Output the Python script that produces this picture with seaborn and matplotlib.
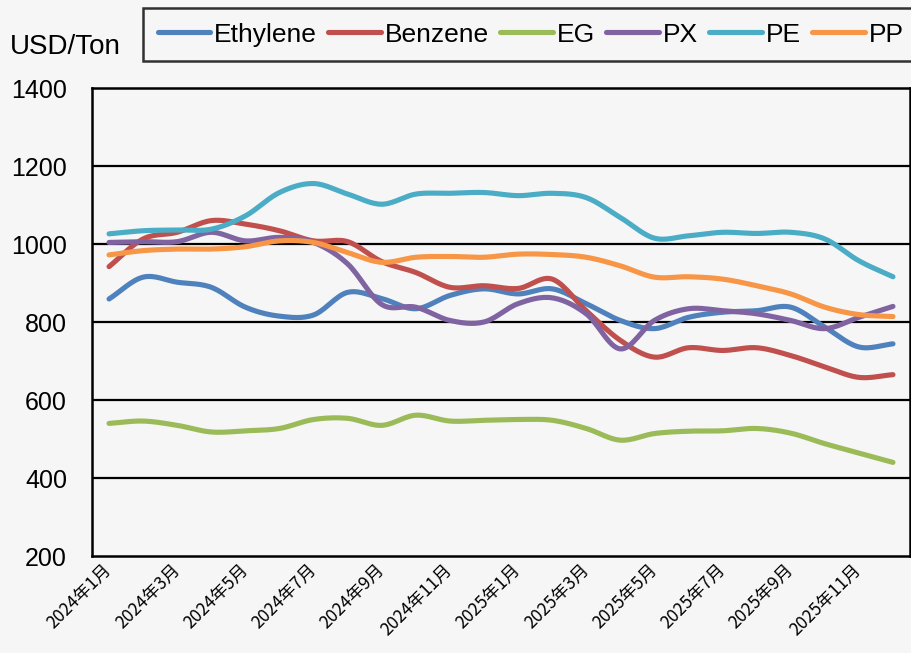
import numpy as np
import pandas as pd
import matplotlib
matplotlib.use("Agg")
import matplotlib.pyplot as plt
from matplotlib.lines import Line2D
import seaborn as sns

months = [f"{y}年{m}月" for y in (2024, 2025) for m in range(1, 13)]

ethylene = [859, 915, 902, 889, 838, 815, 818, 876, 860, 834, 868, 885,
            872, 885, 847, 804, 783, 812, 825, 829, 838, 787, 736, 744]
benzene = [942, 1013, 1030, 1060, 1051, 1034, 1008, 1006, 955, 927, 889, 893,
           886, 910, 829, 753, 710, 734, 727, 734, 714, 685, 658, 665]
eg = [540, 546, 535, 518, 521, 527, 550, 553, 535, 561, 546, 548,
      550, 548, 527, 497, 514, 520, 521, 527, 515, 488, 464, 440]
px = [1004, 1006, 1006, 1030, 1008, 1017, 1004, 949, 845, 838, 804, 800,
      847, 862, 821, 731, 804, 834, 829, 821, 804, 783, 812, 840]
pe = [1026, 1034, 1036, 1038, 1072, 1132, 1155, 1128, 1102, 1128, 1130, 1132,
      1124, 1130, 1119, 1068, 1015, 1021, 1030, 1027, 1030, 1013, 957, 916]
pp = [972, 983, 987, 987, 993, 1008, 1004, 978, 953, 966, 968, 966,
      974, 973, 966, 944, 915, 916, 910, 893, 872, 838, 819, 814]

series_names = ["Ethylene", "Benzene", "EG", "PX", "PE", "PP"]
series_values = [ethylene, benzene, eg, px, pe, pp]
colors = ["#4F81BD", "#C0504D", "#9BBB59", "#8064A2", "#4BACC6", "#F79646"]


def smooth(vals, steps=16):
    # Catmull-Rom curve through the points, like Excel's "smoothed line"
    y = np.asarray(vals, dtype=float)
    x = np.arange(len(y), dtype=float)
    px_ = np.concatenate([[2 * x[0] - x[1]], x, [2 * x[-1] - x[-2]]])
    py_ = np.concatenate([[2 * y[0] - y[1]], y, [2 * y[-1] - y[-2]]])
    xs, ys = [], []
    t = np.linspace(0, 1, steps, endpoint=False)
    for i in range(1, len(px_) - 2):
        for arr, out in ((px_, xs), (py_, ys)):
            p0, p1, p2, p3 = arr[i - 1], arr[i], arr[i + 1], arr[i + 2]
            out.extend(0.5 * ((2 * p1) + (-p0 + p2) * t
                              + (2 * p0 - 5 * p1 + 4 * p2 - p3) * t ** 2
                              + (-p0 + 3 * p1 - 3 * p2 + p3) * t ** 3))
    xs.append(x[-1])
    ys.append(y[-1])
    return np.array(xs), np.array(ys)


frames = []
for name, vals in zip(series_names, series_values):
    sx, sy = smooth(vals)
    frames.append(pd.DataFrame({"x": sx, "value": sy, "series": name}))
df = pd.concat(frames, ignore_index=True)

sns.set_style("white")
plt.rcParams["font.family"] = ["Liberation Sans", "Noto Sans CJK SC", "DejaVu Sans"]
plt.rcParams["text.color"] = "black"
plt.rcParams["xtick.color"] = "black"
plt.rcParams["ytick.color"] = "black"

bg = "#F6F6F6"
fig = plt.figure(figsize=(9.12, 6.53), dpi=100, facecolor=bg)
ax = fig.add_axes([92 / 912, 1 - 556 / 653, 818 / 912, 468 / 653])
ax.set_facecolor(bg)

sns.lineplot(data=df, x="x", y="value", hue="series", hue_order=series_names,
             palette=colors, linewidth=3.7, sort=False, estimator=None,
             legend=False, ax=ax, solid_capstyle="round")

ax.set_xlim(-0.5, 23.5)
ax.set_ylim(200, 1400)
ax.set_yticks(range(200, 1401, 200))
ax.set_xticks(range(0, 24, 2))
ax.set_xticklabels(months[::2], rotation=45, ha="right", va="center",
                   rotation_mode="anchor", fontsize=12.5,
                   family=["Noto Sans CJK SC", "DejaVu Sans"])
ax.tick_params(axis="y", length=0, pad=18, labelsize=18, labelcolor="black")
ax.tick_params(axis="x", length=0, pad=8, labelcolor="black")
ax.set_xlabel("")
ax.set_ylabel("")
for y in range(400, 1400, 200):
    ax.axhline(y, color="black", lw=1.6, zorder=0.5)
for sp in ax.spines.values():
    sp.set_color("black")
    sp.set_linewidth(1.8)

fig.text(10 / 912, 1 - 47 / 653, "USD/Ton", fontsize=20, va="center", ha="left",
         color="black")

handles = [Line2D([], [], color=c, lw=3.7, solid_capstyle="round") for c in colors]
leg = fig.legend(handles, series_names, loc="upper left",
                 bbox_to_anchor=(143 / 912, 1 - 8 / 653), ncol=6, fontsize=19,
                 frameon=True, fancybox=False, edgecolor="black",
                 handlelength=2.0, handletextpad=0.15, columnspacing=0.42,
                 borderpad=0.55, borderaxespad=0, labelcolor="black")
leg.get_frame().set_linewidth(1.8)
leg.get_frame().set_facecolor(bg)

fig.savefig("out.png", dpi=100, facecolor=bg)
